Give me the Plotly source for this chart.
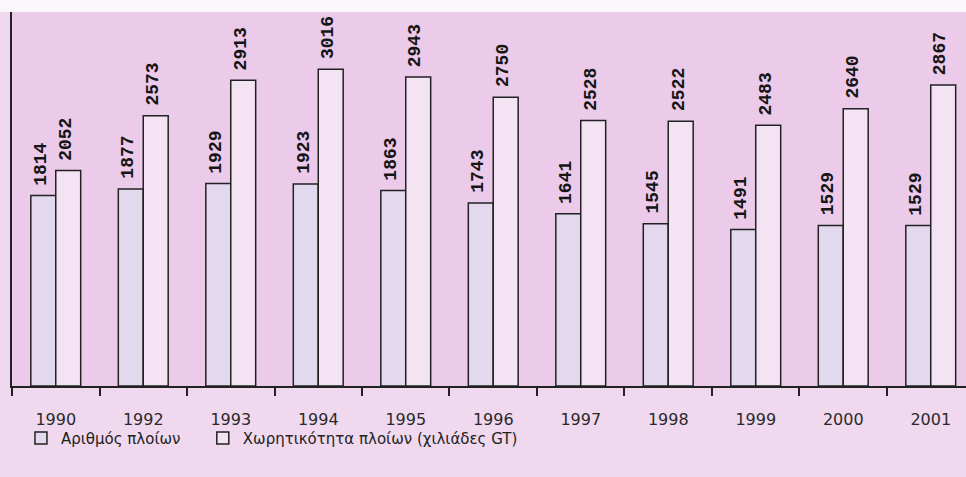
import plotly.graph_objects as go

years = ["1990", "1992", "1993", "1994", "1995", "1996", "1997", "1998", "1999", "2000", "2001"]
ships_count = [1814, 1877, 1929, 1923, 1863, 1743, 1641, 1545, 1491, 1529, 1529]
capacity_gt = [2052, 2573, 2913, 3016, 2943, 2750, 2528, 2522, 2483, 2640, 2867]
series_names = ["Αριθμός πλοίων", "Χωρητικότητα πλοίων (χιλιάδες GT)"]

label_font = dict(family="Liberation Mono, DejaVu Sans Mono", size=18, color="#151515")

fig = go.Figure()
fig.add_trace(go.Bar(
    x=years, y=ships_count, name=series_names[0], legend="legend",
    marker=dict(color="#e3d9ef", line=dict(color="#222222", width=1.5)),
))
fig.add_trace(go.Bar(
    x=years, y=capacity_gt, name=series_names[1], legend="legend2",
    marker=dict(color="#f3e3f3", line=dict(color="#222222", width=1.5)),
))

annotations = []
for series, shift in ((ships_count, -15), (capacity_gt, 10)):
    for idx, v in enumerate(series):
        annotations.append(dict(
            x=idx, y=v, xref="x", yref="y", text="<b>%d</b>" % v, showarrow=False,
            textangle=-90, xanchor="center", yanchor="bottom", xshift=shift, yshift=8,
            font=label_font,
        ))

legend_common = dict(orientation="h", xanchor="left", y=-0.14, yanchor="middle",
                     font=dict(family="DejaVu Sans, Liberation Sans", size=15, color="#222222"),
                     bgcolor="rgba(0,0,0,0)")

fig.update_layout(
    width=966, height=477,
    margin=dict(l=12, r=0, t=12, b=91),
    paper_bgcolor="#f0d8ef",
    plot_bgcolor="#ebcaea",
    barmode="group", bargap=0.43, bargroupgap=0,
    showlegend=True,
    legend=dict(x=0.0094, **legend_common),
    legend2=dict(x=0.200, **legend_common),
    annotations=annotations,
    xaxis=dict(type="category", range=[-0.5, 10.403], showline=True, linecolor="#222222", linewidth=1.5,
               ticks="outside", tickson="boundaries", ticklen=8, tickwidth=1.5, tickcolor="#222222",
               ticklabelstandoff=18,
               tickfont=dict(family="DejaVu Sans, Liberation Sans", size=16, color="#2a2a2a"),
               showgrid=False, zeroline=False),
    yaxis=dict(range=[0, 3562], showline=True, linecolor="#222222", linewidth=1.5,
               showticklabels=False, ticks="", showgrid=False, zeroline=False),
    shapes=[
        dict(type="rect", xref="paper", yref="paper", x0=-0.02, x1=1.01, y0=1.0, y1=1.04,
             fillcolor="#fbf6fa", line=dict(width=0), layer="below"),
        dict(type="line", xref="paper", yref="paper", x0=0, x1=0, y0=0, y1=-0.025,
             line=dict(color="#222222", width=1.5)),
    ],
)

fig.write_html("out.html", config={"displayModeBar": False},
               post_script="document.body.style.margin='0px';")
